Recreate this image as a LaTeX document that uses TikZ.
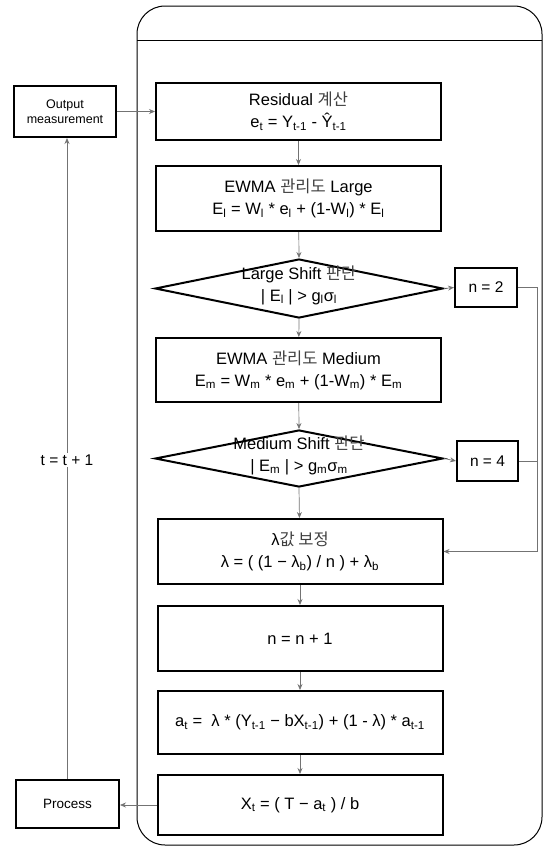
\documentclass[tikz,border=0pt]{standalone}
\usepackage{fontspec}
\setmainfont{Liberation Sans}
\newfontfamily\kr{Noto Sans CJK KR}
\usetikzlibrary{shapes.geometric,arrows.meta}
\newcommand{\sbs}[1]{\textsubscript{#1}}
\newcommand{\ko}[1]{{\kr\color{black!75}#1}}
\tikzset{
  box/.style={draw, line width=2pt, minimum width=285pt, align=center, inner sep=0pt,
    font=\fontsize{16.5}{22}\selectfont},
  smallbox/.style={draw, line width=2pt, align=center, inner sep=0pt,
    font=\fontsize{12.5}{15}\selectfont},
  ddiam/.style={draw, diamond, line width=2pt, minimum width=288pt, minimum height=59pt, inner sep=0pt},
  dtext/.style={align=center, font=\fontsize{16.5}{22}\selectfont, inner sep=0pt},
  conn/.style={draw=black!55, line width=0.7pt, -{Stealth[length=6pt,width=5pt]}},
  plain/.style={draw=black!55, line width=0.7pt},
  frame/.style={draw, line width=1pt, rounded corners=28pt}
}
\begin{document}
\begin{tikzpicture}[x=1pt,y=-1pt]
\useasboundingbox (0,0) rectangle (545,847);
% outer frame
\draw[frame] (137,6) rectangle (542,845);
\coordinate (hl) at (137,40);
\coordinate (hr) at (542,40);
\draw[line width=1pt] (hl) -- (hr);
% main column
\node[box, minimum height=57pt] (res) at (298.5,111.5) {Residual \ko{계산}\\e\sbs{t} = Y\sbs{t-1} - Ŷ\sbs{t-1}};
\node[box, minimum height=65pt] (ewl) at (298.5,198.5) {EWMA \ko{관리도} Large\\E\sbs{l} = W\sbs{l} * e\sbs{l} + (1-W\sbs{l}) * E\sbs{l}};
\node[ddiam] (dl) at (299,288.5) {};
\node[dtext] (dlt) at (299,285) {Large Shift \ko{판단}\\| E\sbs{l} | > g\sbs{l}σ\sbs{l}};
\node[box, minimum height=64pt] (ewm) at (298.5,370) {EWMA \ko{관리도} Medium\\E\sbs{m} = W\sbs{m} * e\sbs{m} + (1-W\sbs{m}) * E\sbs{m}};
\node[ddiam, minimum height=57pt] (dm) at (299,458.5) {};
\node[dtext] (dmt) at (299,455) {Medium Shift \ko{판단}\\| E\sbs{m} | > g\sbs{m}σ\sbs{m}};
\node[box, minimum height=65pt] (lam) at (300,551.5) {λ\ko{값 보정}\\λ = ( (1 − λ\sbs{b}) / n ) + λ\sbs{b}};
\node[box, minimum height=65pt] (nn) at (300,638.5) {n = n + 1};
\node[box, minimum height=63pt] (at) at (300,722.5) {a\sbs{t} =\ \ λ * (Y\sbs{t-1} − bX\sbs{t-1}) + (1 - λ) * a\sbs{t-1}};
\node[box, minimum height=60pt] (xt) at (300,805) {X\sbs{t} = ( T − a\sbs{t} ) / b};
% side boxes
\node[smallbox, minimum width=62pt, minimum height=39pt, font=\fontsize{15.5}{18}\selectfont] (n2) at (486,287.5) {n = 2};
\node[smallbox, minimum width=61pt, minimum height=40pt, font=\fontsize{15.5}{18}\selectfont] (n4) at (487.5,461) {n = 4};
\node[smallbox, minimum width=102pt, minimum height=51pt] (out) at (65,111.5) {Output\\measurement};
\node[smallbox, minimum width=103pt, minimum height=48pt, font=\fontsize{13.5}{16}\selectfont] (proc) at (67.5,804) {Process};
% main flow
\draw[conn] (res) -- (ewl);
\draw[conn] (ewl) -- (dl.north);
\draw[conn] (dl.south) -- (ewm);
\draw[conn] (ewm) -- (dm.north);
\draw[conn] (dm.south) -- (lam);
\draw[conn] (lam) -- (nn);
\draw[conn] (nn) -- (at);
\draw[conn] (at) -- (xt);
% decisions to side boxes
\draw[conn] (dl.east) -- (n2.west);
\draw[conn] (dm.east) -- (n4.west);
% return path on the right
\coordinate (rj) at (537,551.5);
\draw[plain] (n2.east) -- (n2.east -| rj) -- (rj);
\draw[plain] (n4.east) -- (n4.east -| rj);
\draw[conn] (rj) -- (lam.east);
% outer loop
\coordinate (lx) at (67,0);
\draw[conn] (out.east) -- (res.west);
\draw[conn] (xt.west) -- (xt.west -| proc.east);
\draw[conn] (proc.north -| lx) -- (out.south -| lx);
\node[fill=white, inner sep=2pt, font=\fontsize{15.5}{18}\selectfont] (tt) at (67,460) {t = t + 1};
\end{tikzpicture}
\end{document}
